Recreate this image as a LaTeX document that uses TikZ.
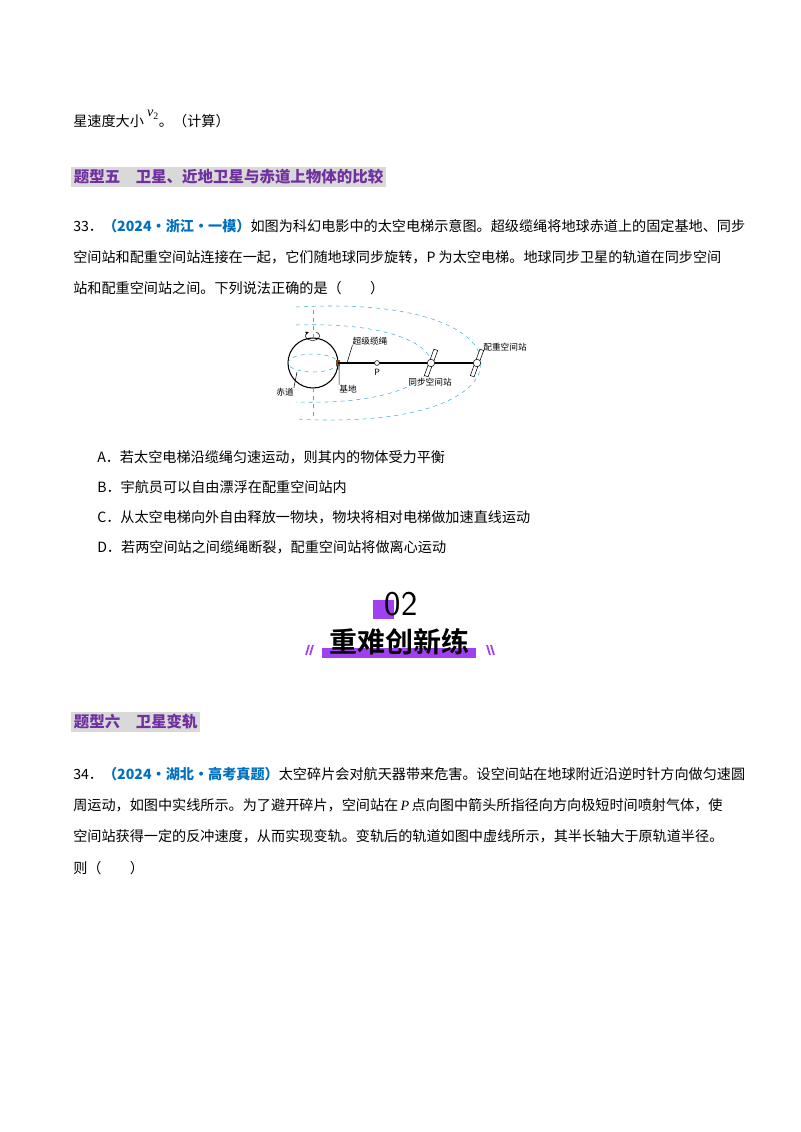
\documentclass[tikz,border=0pt]{standalone}
\usepackage{fontspec}
\setmainfont{Liberation Serif}
\newfontfamily\cjk{Noto Sans CJK SC}
\newfontfamily\cjkb{Noto Sans CJK SC}[BoldFont={* Bold}]
\usetikzlibrary{arrows.meta,positioning}
\definecolor{hpurple}{HTML}{7030A0}
\definecolor{hblue}{HTML}{0070C0}
\definecolor{hgray}{HTML}{D9D9D9}
\definecolor{bpurple}{HTML}{A040F0}
\definecolor{dcyan}{HTML}{3FB0D0}
\begin{document}
\begin{tikzpicture}[x=0.75pt,y=-0.75pt,
  body/.style={anchor=west,inner sep=0pt,font=\fontsize{10.6}{12}\cjk},
  head/.style={anchor=west,inner sep=2pt,fill=hgray,text=hpurple,font=\fontsize{11.6}{13}\cjk\bfseries},
  lab/.style={inner sep=0pt,font=\fontsize{6.5}{7}\cjk},
  orbit/.style={dcyan,dashed,thin}]
\useasboundingbox (0,0) rectangle (800,1132);
\node[body] (l0) at (73,119) {星速度大小 \raisebox{1.2ex}{\fontspec{Liberation Serif}\itshape v\textsubscript{\upshape 2}}。（计算）};
\node[head] (h1) at (71,177) {题型五\quad 卫星、近地卫星与赤道上物体的比较};
\node[body] (l1) at (73,226) {33．{\bfseries\color{hblue}（2024·浙江·一模）}如图为科幻电影中的太空电梯示意图。超级缆绳将地球赤道上的固定基地、同步};
\node[body] (l2) at (73,257) {空间站和配重空间站连接在一起，它们随地球同步旋转，P 为太空电梯。地球同步卫星的轨道在同步空间};
\node[body] (l3) at (73,288) {站和配重空间站之间。下列说法正确的是（\quad\quad）};
% diagram
\draw[orbit] (296,307) .. controls (420,300) and (481,330) .. (481,363) .. controls (481,396) and (420,426) .. (296,419);
\draw[orbit] (296,325) .. controls (390,322) and (431,345) .. (431,363) .. controls (431,381) and (390,405) .. (296,402);
\node[circle,draw,thick,minimum size=37.5pt,inner sep=0pt] (earth) at (313,363) {};
\draw[orbit] (313,363) ellipse (25 and 9);
\draw[orbit] (313,310) -- (313,338) (313,388) -- (313,420);
\draw[-{Stealth[length=3pt]}] (316,332) arc (-60:240:7 and 4.5);
\coordinate (base) at (338,363);
\fill[brown!60!black] (336,360) rectangle (340,366);
\coordinate (cw) at (478,363);
\draw[thick] (base) -- (cw);
\node[circle,draw,fill=white,inner sep=1.3pt] (P) at (377,363) {};
\node[lab,below=2pt of P] (Pl) {P};
\foreach \n/\x in {ss/431,cs/477}{
  \begin{scope}[shift={(\x,363)},rotate=-20]
  \draw[fill=white] (-2,-14) rectangle (2,14);
  \end{scope}
  \node[circle,draw,fill=white,inner sep=2pt] (\n) at (\x,363) {};}
\node[lab] (t1) at (370,341) {超级缆绳};
\draw[thin] (t1.south west) -- (347,363);
\node[lab] (t2) at (505,347) {配重空间站};
\node[lab] (t3) at (430,382) {同步空间站};
\node[lab] (t4) at (285,392) {赤道};
\draw[thin] (t4.north east) -- (297,372);
\node[lab] (t5) at (348,389) {基地};
\draw[thin] (t5.north west) -- (339,366);
% options
\node[body] (A) at (97,457) {A．若太空电梯沿缆绳匀速运动，则其内的物体受力平衡};
\node[body] (B) at (97,487) {B．宇航员可以自由漂浮在配重空间站内};
\node[body] (C) at (97,517) {C．从太空电梯向外自由释放一物块，物块将相对电梯做加速直线运动};
\node[body] (D) at (97,547) {D．若两空间站之间缆绳断裂，配重空间站将做离心运动};
% banner
\fill[bpurple] (373,600) rectangle (394,619);
\node[inner sep=0pt,font=\fontsize{26}{28}\selectfont\sffamily] (n02) at (401,604) {02};
\fill[bpurple] (322,648) rectangle (476,658);
\node[inner sep=0pt,font=\fontsize{21}{22}\cjkb\bfseries] (bt) at (399,642) {重难创新练};
\draw[bpurple,line width=1.3pt] (306,655)--(309,645) (310,655)--(313,645) (487,645)--(490,655) (491,645)--(494,655);
\node[head] (h2) at (71,722) {题型六\quad 卫星变轨};
\node[body] (m1) at (73,774) {34．{\bfseries\color{hblue}（2024·湖北·高考真题）}太空碎片会对航天器带来危害。设空间站在地球附近沿逆时针方向做匀速圆};
\node[body] (m2) at (73,805) {周运动，如图中实线所示。为了避开碎片，空间站在\,{\fontspec{Liberation Serif}\itshape P}\,点向图中箭头所指径向方向极短时间喷射气体，使};
\node[body] (m3) at (73,836) {空间站获得一定的反冲速度，从而实现变轨。变轨后的轨道如图中虚线所示，其半长轴大于原轨道半径。};
\node[body] (m4) at (73,868) {则（\quad\quad）};
\end{tikzpicture}
\end{document}
